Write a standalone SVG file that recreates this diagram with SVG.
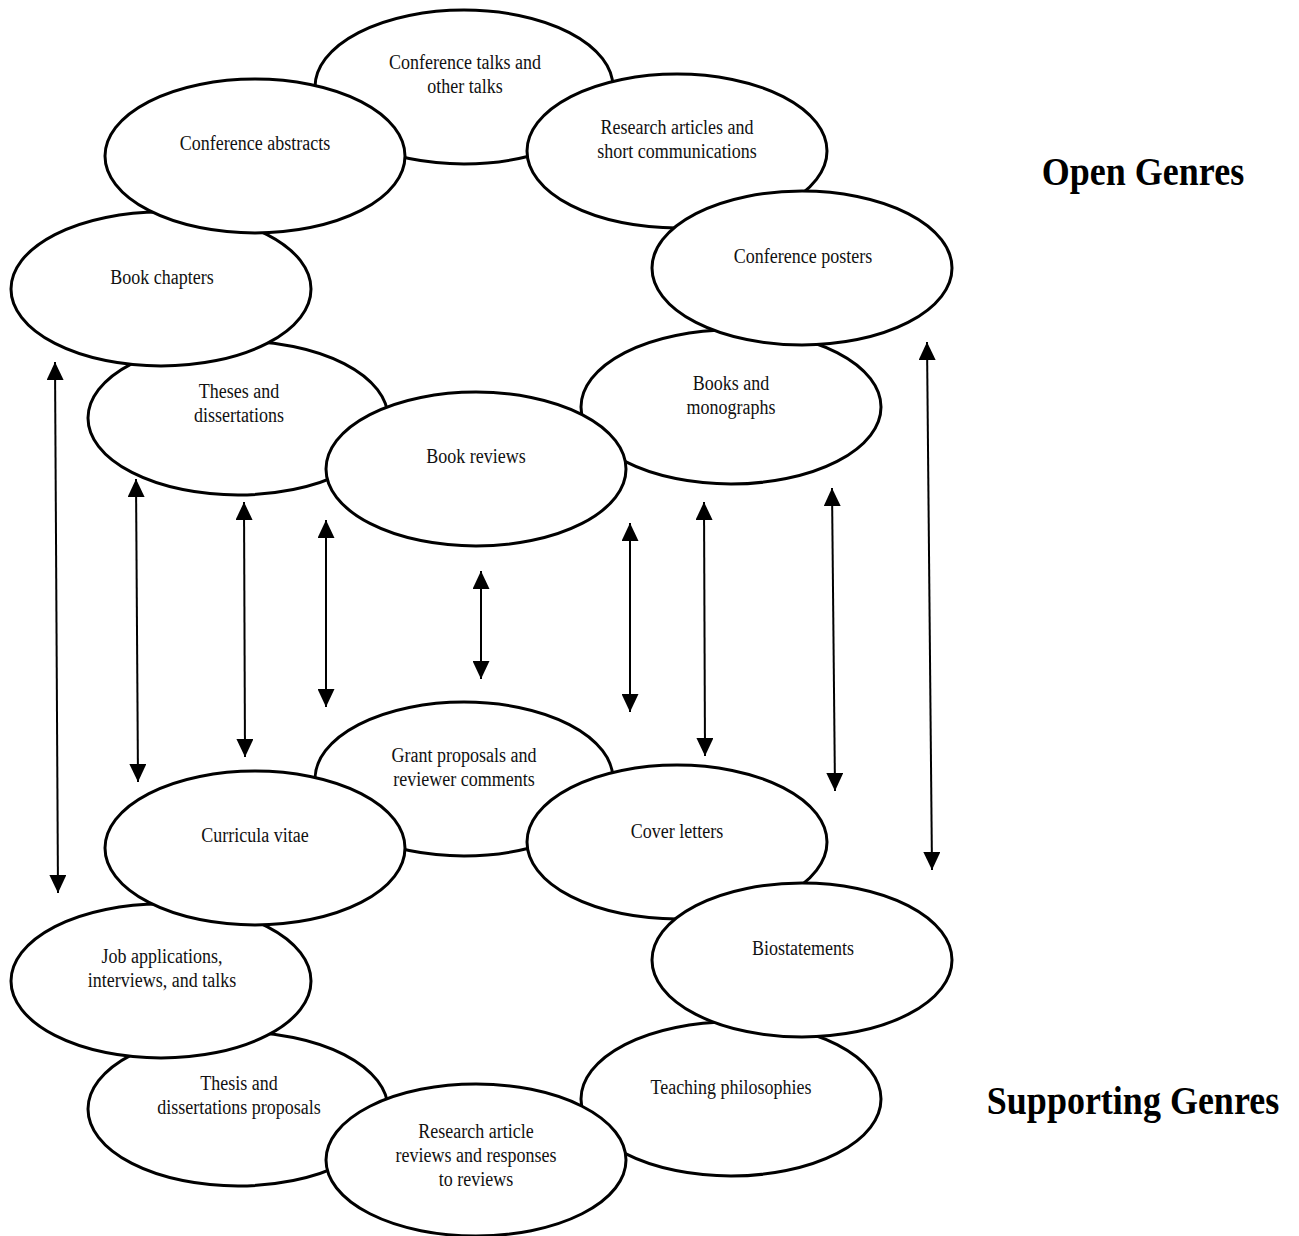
<svg xmlns="http://www.w3.org/2000/svg" width="1299" height="1236" viewBox="0 0 1299 1236">
<style>
.n ellipse{fill:#fff;stroke:#000;stroke-width:3}
.t{font-family:"Liberation Serif","Times New Roman",serif;font-size:18px;fill:#111;text-anchor:middle}
.h{font-family:"Liberation Serif","Times New Roman",serif;font-size:36px;font-weight:bold;fill:#000;text-anchor:middle}
.c line{stroke:#000;stroke-width:2;marker-start:url(#ah);marker-end:url(#ah)}
</style>
<defs>
<marker id="ah" markerUnits="userSpaceOnUse" markerWidth="18" markerHeight="17" refX="18" refY="8.5" orient="auto-start-reverse">
<path d="M0,0 L18,8.5 L0,17 z" fill="#000"/>
</marker>
</defs>
<rect width="1299" height="1236" fill="#fff"/>

<g class="n" id="conference-talks"><ellipse cx="464" cy="87" rx="149" ry="77"/><text class="t" transform="translate(465,69) scale(1,1.2)"><tspan x="0" y="0">Conference talks and</tspan><tspan x="0" dy="20">other talks</tspan></text></g>
<g class="n" id="research-articles"><ellipse cx="677" cy="151" rx="150" ry="77"/><text class="t" transform="translate(677,134) scale(1,1.2)"><tspan x="0" y="0">Research articles and</tspan><tspan x="0" dy="20">short communications</tspan></text></g>
<g class="n" id="books-monographs"><ellipse cx="731" cy="407" rx="150" ry="77"/><text class="t" transform="translate(731,390) scale(1,1.2)"><tspan x="0" y="0">Books and</tspan><tspan x="0" dy="20">monographs</tspan></text></g>
<g class="n" id="conference-posters"><ellipse cx="802" cy="268" rx="150" ry="77"/><text class="t" transform="translate(803,263) scale(1,1.2)">Conference posters</text></g>
<g class="n" id="theses"><ellipse cx="238" cy="418" rx="150" ry="77"/><text class="t" transform="translate(239,398) scale(1,1.2)"><tspan x="0" y="0">Theses and</tspan><tspan x="0" dy="20">dissertations</tspan></text></g>
<g class="n" id="book-chapters"><ellipse cx="161" cy="289" rx="150" ry="77"/><text class="t" transform="translate(162,284) scale(1,1.2)">Book chapters</text></g>
<g class="n" id="conference-abstracts"><ellipse cx="255" cy="156" rx="150" ry="77"/><text class="t" transform="translate(255,150) scale(1,1.2)">Conference abstracts</text></g>
<g class="n" id="book-reviews"><ellipse cx="476" cy="469" rx="150" ry="77"/><text class="t" transform="translate(476,463) scale(1,1.2)">Book reviews</text></g>

<g class="n" id="grant-proposals"><ellipse cx="464" cy="779" rx="149" ry="77"/><text class="t" transform="translate(464,762) scale(1,1.2)"><tspan x="0" y="0">Grant proposals and</tspan><tspan x="0" dy="20">reviewer comments</tspan></text></g>
<g class="n" id="cover-letters"><ellipse cx="677" cy="842" rx="150" ry="77"/><text class="t" transform="translate(677,838) scale(1,1.2)">Cover letters</text></g>
<g class="n" id="teaching-philosophies"><ellipse cx="731" cy="1099" rx="150" ry="77"/><text class="t" transform="translate(731,1094) scale(1,1.2)">Teaching philosophies</text></g>
<g class="n" id="biostatements"><ellipse cx="802" cy="960" rx="150" ry="77"/><text class="t" transform="translate(803,955) scale(1,1.2)">Biostatements</text></g>
<g class="n" id="thesis-proposals"><ellipse cx="238" cy="1109" rx="150" ry="77"/><text class="t" transform="translate(239,1090) scale(1,1.2)"><tspan x="0" y="0">Thesis and</tspan><tspan x="0" dy="20">dissertations proposals</tspan></text></g>
<g class="n" id="job-applications"><ellipse cx="161" cy="981" rx="150" ry="77"/><text class="t" transform="translate(162,963) scale(1,1.2)"><tspan x="0" y="0">Job applications,</tspan><tspan x="0" dy="20">interviews, and talks</tspan></text></g>
<g class="n" id="curricula-vitae"><ellipse cx="255" cy="848" rx="150" ry="77"/><text class="t" transform="translate(255,842) scale(1,1.2)">Curricula vitae</text></g>
<g class="n" id="ra-reviews"><ellipse cx="476" cy="1160" rx="150" ry="76"/><text class="t" transform="translate(476,1138) scale(1,1.2)"><tspan x="0" y="0">Research article</tspan><tspan x="0" dy="20">reviews and responses</tspan><tspan x="0" dy="20">to reviews</tspan></text></g>

<g class="c" id="connectors">
<line x1="55" y1="362" x2="58" y2="893"/>
<line x1="136" y1="479" x2="138" y2="782"/>
<line x1="244" y1="502" x2="245" y2="757"/>
<line x1="326" y1="520" x2="326" y2="707"/>
<line x1="481" y1="571" x2="481" y2="679"/>
<line x1="630" y1="523" x2="630" y2="712"/>
<line x1="704" y1="502" x2="705" y2="756"/>
<line x1="832" y1="488" x2="835" y2="791"/>
<line x1="927" y1="342" x2="932" y2="870"/>
</g>

<g id="labels">
<text class="h" transform="translate(1143,185) scale(1,1.12)">Open Genres</text>
<text class="h" transform="translate(1133,1114) scale(1,1.12)">Supporting Genres</text>
</g>
</svg>
